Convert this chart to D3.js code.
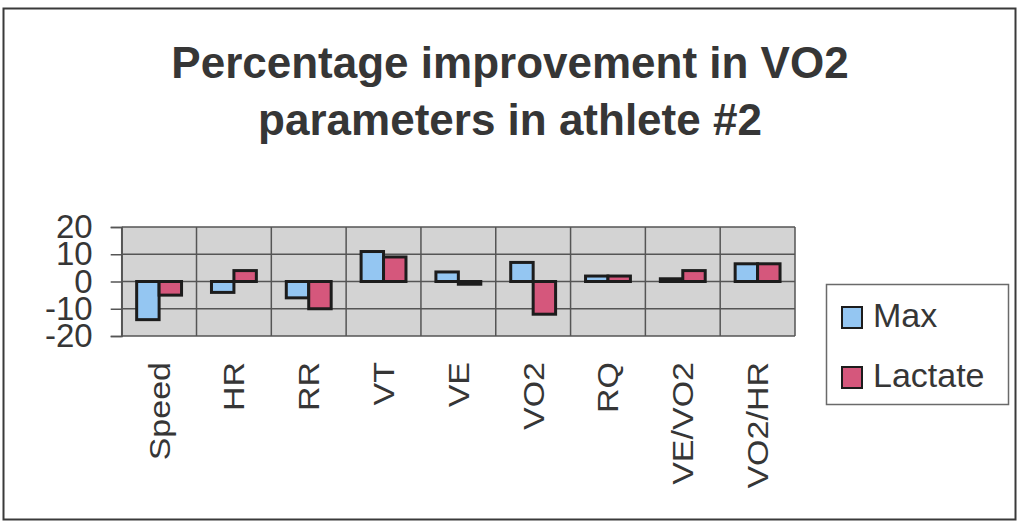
<!DOCTYPE html>
<html>
<head>
<meta charset="utf-8">
<script src="https://cdn.jsdelivr.net/npm/d3@7"></script>
<style>
  html, body { margin: 0; padding: 0; background: #ffffff; }
  svg { display: block; }
  text { font-family: "Liberation Sans", Arial, "DejaVu Sans", sans-serif; fill: #363636; }
</style>
</head>
<body>
<svg id="chart" width="1019" height="531"></svg>
<script>
// Percentage improvement per parameter, at max effort and at lactate threshold
const categories = ["Speed", "HR", "RR", "VT", "VE", "VO2", "RQ", "VE/VO2", "VO2/HR"];
const maxValues = [-14, -4, -6, 11, 3.5, 7, 2, 1, 6.5];
const lactateValues = [-5, 4, -10, 9, -1, -12, 2, 4, 6.5];
const seriesNames = ["Max", "Lactate"];
const seriesColors = ["#94c6f2", "#d5577c"];
const yTicks = [20, 10, 0, -10, -20];
const titleLines = ["Percentage improvement in VO2", "parameters in athlete #2"];

const svg = d3.select("#chart");

// chart frame
svg.append("rect")
  .attr("x", 3.5).attr("y", 8.5)
  .attr("width", 1012).attr("height", 511)
  .attr("fill", "#ffffff")
  .attr("stroke", "#3a3a3a").attr("stroke-width", 2);

// title
svg.append("g").selectAll("text")
  .data(titleLines)
  .join("text")
  .attr("x", 510)
  .attr("y", (d, i) => 78 + i * 57)
  .attr("text-anchor", "middle")
  .attr("font-size", 44)
  .attr("font-weight", "bold")
  .text(d => d);

// plot area
const plot = { left: 121.7, right: 795, top: 227, bottom: 336 };

const x = d3.scaleBand()
  .domain(categories)
  .range([plot.left, plot.right])
  .paddingInner(0).paddingOuter(0);

const xSub = d3.scaleBand()
  .domain(seriesNames)
  .range([0, x.bandwidth()])
  .paddingInner(0).paddingOuter(0.667);

const y = d3.scaleLinear()
  .domain([-20, 20])
  .range([plot.bottom, plot.top]);

svg.append("rect")
  .attr("x", plot.left).attr("y", plot.top)
  .attr("width", plot.right - plot.left)
  .attr("height", plot.bottom - plot.top)
  .attr("fill", "#d3d3d3");

const grid = svg.append("g")
  .attr("stroke", "#555555")
  .attr("stroke-width", 1.5);

// horizontal gridlines
grid.selectAll("line.h")
  .data(yTicks)
  .join("line")
  .attr("class", "h")
  .attr("x1", plot.left).attr("x2", plot.right)
  .attr("y1", d => y(d)).attr("y2", d => y(d));

// vertical category separators
grid.selectAll("line.v")
  .data(categories.concat([null]))
  .join("line")
  .attr("class", "v")
  .attr("x1", d => d === null ? plot.right : x(d))
  .attr("x2", d => d === null ? plot.right : x(d))
  .attr("y1", plot.top).attr("y2", plot.bottom);

// bars
const rows = categories.map((c, i) => ({
  category: c,
  values: [
    { series: "Max", value: maxValues[i] },
    { series: "Lactate", value: lactateValues[i] }
  ]
}));

const color = d3.scaleOrdinal().domain(seriesNames).range(seriesColors);

svg.append("g")
  .selectAll("g")
  .data(rows)
  .join("g")
  .attr("transform", d => `translate(${x(d.category)},0)`)
  .selectAll("rect")
  .data(d => d.values)
  .join("rect")
  .attr("x", d => xSub(d.series))
  .attr("width", xSub.bandwidth())
  .attr("y", d => y(Math.max(0, d.value)))
  .attr("height", d => Math.abs(y(d.value) - y(0)))
  .attr("fill", d => color(d.series))
  .attr("stroke", "#1c1c1c")
  .attr("stroke-width", 3);

// value axis
const yAxis = svg.append("g")
  .attr("transform", `translate(${plot.left},0)`)
  .call(d3.axisLeft(y).tickValues(yTicks).tickSize(11).tickPadding(18).tickFormat(d => String(d)));
yAxis.select(".domain").attr("stroke", "#555555").attr("stroke-width", 1.5);
yAxis.selectAll(".tick line").attr("stroke", "#555555").attr("stroke-width", 1.5);
yAxis.selectAll(".tick text")
  .attr("font-size", 33)
  .attr("font-family", "'Liberation Sans', Arial, sans-serif")
  .attr("fill", "#363636");

// category labels, rotated
svg.append("g")
  .selectAll("text")
  .data(categories)
  .join("text")
  .attr("transform", d => `translate(${x(d) + x.bandwidth() / 2},362) rotate(-90) scale(1,0.85)`)
  .attr("text-anchor", "end")
  .attr("dy", "0.36em")
  .attr("font-size", 34)
  .text(d => d);

// legend
const legend = svg.append("g");
legend.append("rect")
  .attr("x", 826.5).attr("y", 284.5)
  .attr("width", 182).attr("height", 120)
  .attr("fill", "#ffffff")
  .attr("stroke", "#6a6a6a").attr("stroke-width", 1.5);

const items = legend.selectAll("g")
  .data(seriesNames)
  .join("g")
  .attr("transform", (d, i) => `translate(842,${307 + i * 60})`);

items.append("rect")
  .attr("width", 20).attr("height", 21)
  .attr("fill", d => color(d))
  .attr("stroke", "#1c1c1c").attr("stroke-width", 2);

items.append("text")
  .attr("x", 31).attr("y", 19.5)
  .attr("font-size", 34)
  .text(d => d);
</script>
</body>
</html>
